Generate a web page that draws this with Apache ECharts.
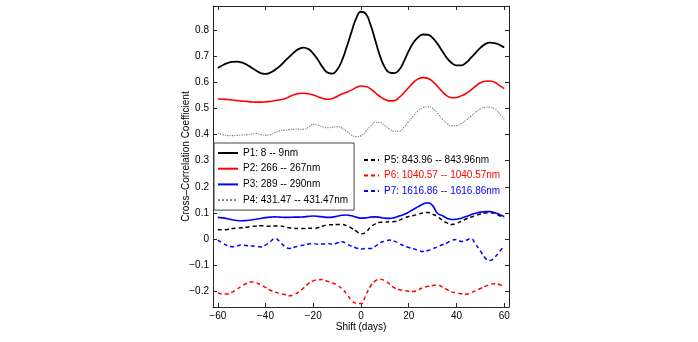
<!DOCTYPE html>
<html><head><meta charset="utf-8">
<script src="https://cdn.jsdelivr.net/npm/echarts@6/dist/echarts.min.js"></script>
<style>html,body{margin:0;padding:0;background:#fff}#c{width:698px;height:342px}</style>
</head><body><div id="c"></div>
<script>
const shifts = [-60,-58,-56,-54,-52,-50,-48,-46,-44,-42,-40,-38,-36,-34,-32,-30,-28,-26,-24,-22,-20,-18,-16,-14,-12,-10,-8,-6,-4,-2,0,2,4,6,8,10,12,14,16,18,20,22,24,26,28,30,32,34,36,38,40,42,44,46,48,50,52,54,56,58,60];
const names = ['P1: 8 -- 9nm','P2: 266 -- 267nm','P3: 289 -- 290nm','P4: 431.47 -- 431.47nm','P5: 843.96 -- 843.96nm','P6: 1040.57 -- 1040.57nm','P7: 1616.86 -- 1616.86nm'];
const p1 = [.655,.665,.673,.678,.679,.676,.668,.657,.645,.635,.632,.637,.648,.662,.680,.698,.715,.728,.733,.727,.710,.685,.657,.637,.633,.648,.683,.735,.792,.845,.870,.862,.820,.760,.700,.657,.637,.635,.648,.680,.720,.752,.773,.783,.782,.770,.748,.720,.693,.674,.665,.665,.675,.693,.713,.732,.746,.752,.750,.743,.733];
const p2 = [.536,.535,.534,.532,.530,.528,.527,.525,.524,.524,.525,.527,.530,.533,.537,.545,.552,.557,.558,.556,.551,.545,.538,.535,.538,.546,.555,.562,.570,.580,.586,.584,.575,.560,.545,.534,.529,.530,.542,.560,.580,.600,.613,.618,.615,.603,.585,.565,.548,.541,.542,.548,.557,.570,.585,.598,.604,.605,.600,.588,.576];
const p3 = [.083,.081,.078,.074,.071,.070,.071,.073,.076,.079,.082,.084,.085,.084,.083,.083,.084,.084,.085,.087,.088,.087,.085,.083,.084,.087,.091,.092,.089,.084,.080,.081,.084,.085,.083,.080,.079,.082,.088,.094,.103,.114,.124,.134,.139,.128,.099,.090,.080,.075,.076,.080,.086,.093,.099,.103,.105,.105,.101,.094,.086];
const p4 = [.405,.400,.396,.396,.397,.398,.399,.402,.404,.400,.397,.400,.408,.414,.417,.419,.420,.421,.420,.428,.439,.436,.430,.426,.428,.430,.425,.412,.398,.392,.395,.412,.432,.447,.446,.435,.421,.412,.413,.428,.450,.472,.492,.503,.507,.500,.482,.460,.443,.434,.434,.442,.455,.470,.485,.498,.504,.505,.498,.480,.459];
const p5 = [.037,.036,.037,.040,.042,.043,.045,.048,.050,.051,.050,.049,.050,.050,.047,.043,.041,.040,.040,.041,.041,.044,.050,.054,.055,.056,.056,.051,.042,.030,.020,.026,.046,.058,.064,.065,.066,.067,.072,.080,.086,.090,.095,.100,.102,.095,.086,.073,.062,.056,.060,.068,.077,.084,.090,.096,.100,.101,.098,.090,.080];
const p6 = [-.206,-.210,-.210,-.203,-.192,-.180,-.170,-.164,-.167,-.175,-.185,-.196,-.203,-.208,-.212,-.217,-.212,-.202,-.187,-.170,-.160,-.156,-.155,-.162,-.168,-.176,-.190,-.210,-.234,-.246,-.247,-.215,-.180,-.160,-.154,-.160,-.172,-.187,-.193,-.197,-.200,-.201,-.194,-.186,-.181,-.178,-.176,-.183,-.193,-.202,-.206,-.209,-.211,-.206,-.197,-.189,-.181,-.174,-.171,-.174,-.183];
const p7 = [-.004,-.015,-.025,-.029,-.026,-.023,-.025,-.027,-.027,-.030,-.023,-.010,.002,-.010,-.028,-.036,-.031,-.027,-.023,-.019,-.017,-.020,-.019,-.017,-.020,-.015,-.010,-.018,-.027,-.034,-.038,-.036,-.036,-.028,-.014,-.008,-.004,-.008,-.017,-.026,-.032,-.037,-.043,-.048,-.044,-.037,-.030,-.022,-.015,-.005,-.002,-.009,-.005,.002,-.020,-.045,-.072,-.082,-.070,-.048,-.027];
const xTicks = [-60,-40,-20,0,20,40,60];
const yTicks = [-0.2,-0.1,0,0.1,0.2,0.3,0.4,0.5,0.6,0.7,0.8];

const values = [p1,p2,p3,p4,p5,p6,p7];
const colors = ['#000000','#ff0000','#0000ff','#808080','#000000','#ff0000','#0000ff'];
const types = ['solid','solid','solid','dotted',[4,3],[4,3],[4,3]];
const widths = [1.8,1.6,1.6,1.2,1.5,1.5,1.5];
const FONT = 'Liberation Sans';
const fmt = v => { const r = Math.round(v*10)/10; return (r===0?'0':String(r)).replace('-','\u2212'); };
const fmtX = v => String(Math.round(v)).replace('-','\u2212');

const series = values.map((arr,i)=>({
  name: names[i], type:'line', smooth:true, symbol:'none',
  data: shifts.map((s,j)=>[s,arr[j]]),
  lineStyle:{color:colors[i], width:widths[i], type:types[i]},
  itemStyle:{color:colors[i]}, z: 10-i
}));

const axisLine = {show:true, onZero:false, lineStyle:{color:'#262626', width:1}};
const chart = echarts.init(document.getElementById('c'), null, {renderer:'canvas'});
chart.setOption({
  animation:false,
  backgroundColor:'#fff',
  grid:{left:213, right:189, top:6, bottom:35, containLabel:false},
  xAxis:[
    {type:'value', min:-62, max:62, position:'bottom',
     name:'Shift (days)', nameLocation:'middle', nameGap:15, nameMoveOverlap:false,
     nameTextStyle:{fontFamily:FONT, fontSize:10, color:'#000'},
     axisLine, splitLine:{show:false},
     axisTick:{show:true, inside:true, length:4, customValues:xTicks, lineStyle:{color:'#262626'}},
     axisLabel:{customValues:xTicks, formatter:fmtX, fontFamily:FONT, fontSize:10, color:'#000', margin:4}},
    {type:'value', min:-62, max:62, position:'top',
     axisLine, splitLine:{show:false},
     axisTick:{show:true, inside:true, length:4, customValues:xTicks, lineStyle:{color:'#262626'}},
     axisLabel:{show:false}}
  ],
  yAxis:[
    {type:'value', min:-0.26, max:0.892, position:'left',
     name:'Cross\u2013Correlation Coefficient', nameLocation:'middle', nameGap:22, nameRotate:90, nameMoveOverlap:false,
     nameTextStyle:{fontFamily:FONT, fontSize:10, color:'#000'},
     axisLine, splitLine:{show:false},
     axisTick:{show:true, inside:true, length:4, customValues:yTicks, lineStyle:{color:'#262626'}},
     axisLabel:{customValues:yTicks, formatter:fmt, fontFamily:FONT, fontSize:10, color:'#000', margin:4}},
    {type:'value', min:-0.26, max:0.892, position:'right',
     axisLine, splitLine:{show:false},
     axisTick:{show:true, inside:true, length:4, customValues:yTicks, lineStyle:{color:'#262626'}},
     axisLabel:{show:false}}
  ],
  legend:[
    {orient:'vertical', left:214, top:143, itemWidth:20, itemHeight:11, itemGap:5.7,
     padding:[5,6,5,3], borderColor:'#444', borderWidth:1, backgroundColor:'#fff',
     itemStyle:{opacity:0, borderWidth:0},
     textStyle:{fontFamily:FONT, fontSize:10, color:'#000'},
     data:names.slice(0,4)},
    {orient:'vertical', left:363, top:155, itemWidth:15, itemHeight:11, itemGap:5.5,
     padding:0, itemStyle:{opacity:0, borderWidth:0},
     textStyle:{fontFamily:FONT, fontSize:10, color:'#000'},
     data:[{name:names[4]},{name:names[5], textStyle:{color:'#ff0000'}},{name:names[6], textStyle:{color:'#0000ff'}}]}
  ],
  series
});
</script></body></html>
